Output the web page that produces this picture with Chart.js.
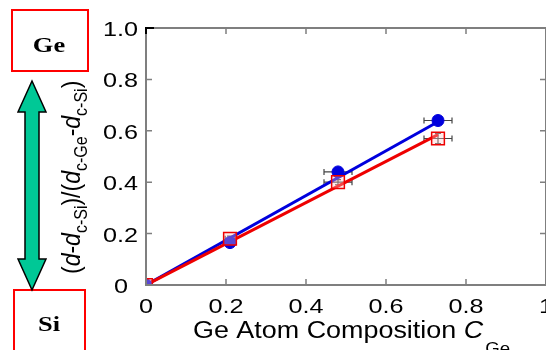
<!DOCTYPE html>
<html>
<head>
<meta charset="utf-8">
<script src="https://cdn.jsdelivr.net/npm/chart.js@4.4.1/dist/chart.umd.min.js"></script>
<style>
  html, body { margin: 0; padding: 0; background: #fff; overflow: hidden; }
  #wrap { position: relative; width: 580px; height: 350px; }
</style>
</head>
<body>
<div id="wrap"><canvas id="chart"></canvas></div>
<script>
// Ge composition and normalized lattice spacing
const composition = [0, 0.21, 0.48, 0.73];
const blueValues = [0, 0.165, 0.44, 0.64];
const redValues = [0, 0.18, 0.40, 0.57];
const compErr = [0, 0.012, 0.035, 0.035];
const blueErr = [0, 0, 0, 0];
const redErr = [0, 0.01, 0.01, 0.02];
// linear fits through the origin
const fitX = [0, 0.73];
const blueFit = [0, 0.635];
const redFit = [0, 0.585];
const xTicks = [0, 0.2, 0.4, 0.6, 0.8, 1];
const yTicks = [0, 0.2, 0.4, 0.6, 0.8, 1];
const xTickLabels = ['0', '0.2', '0.4', '0.6', '0.8', '1'];
const yTickLabels = ['0', '0.2', '0.4', '0.6', '0.8', '1.0'];

const pts = (xs, ys) => xs.map((x, i) => ({ x: x, y: ys[i] }));

const AXIS = '#7f7f7f';
const FONT = '"Liberation Sans", Arial, sans-serif';
const SX = 1.2;   // wide lettering

// text drawn horizontally widened; align is applied after widening
function wideText(ctx, str, x, y, font, align, sx) {
    sx = sx || SX;
    ctx.save();
    ctx.font = font;
    const w = ctx.measureText(str).width * sx;
    let left = x;
    if (align === 'center') left = x - w / 2;
    else if (align === 'right') left = x - w;
    ctx.translate(left, y);
    ctx.scale(sx, 1);
    ctx.textAlign = 'left';
    ctx.fillText(str, 0, 0);
    ctx.restore();
    return w;
}

// axes box with inward ticks, error bars and side annotations
const decorations = {
    id: 'decorations',
    beforeDatasetsDraw(chart) {
        const { ctx, scales: { x, y } } = chart;
        ctx.save();
        ctx.strokeStyle = '#444';
        ctx.lineWidth = 1.2;
        const bar = (xs, ys, xe, ye) => {
            xs.forEach((v, i) => {
                const px = x.getPixelForValue(v), py = y.getPixelForValue(ys[i]);
                if (xe[i] > 0) {
                    const l = x.getPixelForValue(v - xe[i]), r = x.getPixelForValue(v + xe[i]);
                    ctx.beginPath();
                    ctx.moveTo(l, py); ctx.lineTo(r, py);
                    ctx.moveTo(l, py - 3); ctx.lineTo(l, py + 3);
                    ctx.moveTo(r, py - 3); ctx.lineTo(r, py + 3);
                    ctx.stroke();
                }
                if (ye[i] > 0) {
                    const t = y.getPixelForValue(ys[i] + ye[i]), b = y.getPixelForValue(ys[i] - ye[i]);
                    ctx.beginPath();
                    ctx.moveTo(px, t); ctx.lineTo(px, b);
                    ctx.moveTo(px - 3, t); ctx.lineTo(px + 3, t);
                    ctx.moveTo(px - 3, b); ctx.lineTo(px + 3, b);
                    ctx.stroke();
                }
            });
        };
        bar(composition, redValues, compErr, redErr);
        bar(composition, blueValues, compErr, blueErr);
        ctx.restore();
    },
    afterDraw(chart) {
        const { ctx, chartArea: a, scales: { x, y } } = chart;
        ctx.save();

        // frame
        ctx.strokeStyle = AXIS;
        ctx.lineWidth = 2;
        ctx.strokeRect(a.left, a.top, a.right - a.left, a.bottom - a.top);
        ctx.lineWidth = 1.5;
        ctx.beginPath();
        xTicks.forEach(v => {
            const px = x.getPixelForValue(v);
            ctx.moveTo(px, a.bottom); ctx.lineTo(px, a.bottom - 6);
            ctx.moveTo(px, a.top); ctx.lineTo(px, a.top + 6);
        });
        yTicks.forEach(v => {
            const py = y.getPixelForValue(v);
            ctx.moveTo(a.left, py); ctx.lineTo(a.left + 6, py);
            ctx.moveTo(a.right, py); ctx.lineTo(a.right - 6, py);
        });
        ctx.stroke();
        ctx.strokeStyle = '#000';
        ctx.lineWidth = 2;
        ctx.beginPath();
        ctx.moveTo(a.left, a.top + 6); ctx.lineTo(a.left, a.top); ctx.lineTo(a.left + 8, a.top);
        ctx.stroke();

        // tick labels
        ctx.fillStyle = '#000';
        ctx.textBaseline = 'alphabetic';
        const tickFont = '21px ' + FONT;
        xTicks.forEach((v, i) => {
            wideText(ctx, xTickLabels[i], x.getPixelForValue(v), a.bottom + 28, tickFont, 'center');
        });
        yTicks.forEach((v, i) => {
            const right = v === 0 ? a.left - 18 : a.left - 8;
            wideText(ctx, yTickLabels[i], right, y.getPixelForValue(v) + 8, tickFont, 'right');
        });

        // x axis title
        let cx = 193;
        cx += wideText(ctx, 'Ge Atom Composition ', cx, 338, '23px ' + FONT, 'left', 1.17);
        cx += wideText(ctx, 'C', cx, 338, 'italic 23px ' + FONT, 'left', 1.17) + 2;
        wideText(ctx, 'Ge', cx, 354, '16px ' + FONT, 'left', 1.17);

        // y axis title, rotated, with subscripts
        ctx.save();
        ctx.translate(80, 274);
        ctx.scale(1.12, 1);
        ctx.rotate(-Math.PI / 2);
        const parts = [
            ['(', '23px', ''], ['d', '23px', 'italic '], ['-', '23px', ''], ['d', '23px', 'italic '],
            ['c-Si', '16px', '', 6], [')/(', '23px', ''], ['d', '23px', 'italic '],
            ['c-Ge', '16px', '', 6], ['-', '23px', ''], ['d', '23px', 'italic '],
            ['c-Si', '16px', '', 6], [')', '23px', '']
        ];
        let tx = 0;
        ctx.textAlign = 'left';
        parts.forEach(p => {
            ctx.font = p[2] + p[1] + ' ' + FONT;
            ctx.fillText(p[0], tx, p[3] || 0);
            tx += ctx.measureText(p[0]).width;
        });
        ctx.restore();

        // Ge / Si boxes
        ctx.strokeStyle = '#ff0000';
        ctx.lineWidth = 2;
        ctx.strokeRect(12, 10, 76, 61);
        ctx.strokeRect(14, 290, 71, 70);
        ctx.fillStyle = '#000';
        ctx.textBaseline = 'middle';
        const boxFont = 'bold 22px "Liberation Serif", "Times New Roman", serif';
        wideText(ctx, 'Ge', 49, 46, boxFont, 'center');
        wideText(ctx, 'Si', 49, 325, boxFont, 'center');

        // double-headed arrow
        const ax = 32, top = 81, bot = 290, hw = 14, sw = 7, hl = 31;
        ctx.beginPath();
        ctx.moveTo(ax, top);
        ctx.lineTo(ax + hw, top + hl);
        ctx.lineTo(ax + sw, top + hl);
        ctx.lineTo(ax + sw, bot - hl);
        ctx.lineTo(ax + hw, bot - hl);
        ctx.lineTo(ax, bot);
        ctx.lineTo(ax - hw, bot - hl);
        ctx.lineTo(ax - sw, bot - hl);
        ctx.lineTo(ax - sw, top + hl);
        ctx.lineTo(ax - hw, top + hl);
        ctx.closePath();
        ctx.fillStyle = '#00c896';
        ctx.fill();
        ctx.strokeStyle = '#000';
        ctx.lineWidth = 1.5;
        ctx.stroke();

        ctx.restore();
    }
};

new Chart(document.getElementById('chart'), {
    type: 'scatter',
    data: {
        datasets: [
            {
                type: 'line',
                data: pts(fitX, blueFit),
                borderColor: '#0000dd',
                borderWidth: 3,
                pointRadius: 0,
                order: 3
            },
            {
                type: 'line',
                data: pts(fitX, redFit),
                borderColor: '#ee0000',
                borderWidth: 3,
                pointRadius: 0,
                order: 2
            },
            {
                data: pts(composition, blueValues),
                pointStyle: 'circle',
                pointRadius: 6,
                backgroundColor: '#0000dd',
                borderColor: '#0000dd',
                order: 1
            },
            {
                data: pts(composition, redValues),
                pointStyle: 'rect',
                pointRadius: 9,
                backgroundColor: 'rgba(255,200,200,0.35)',
                borderColor: '#ee0000',
                borderWidth: 1.5,
                order: 0
            }
        ]
    },
    options: {
        responsive: true,
        maintainAspectRatio: false,
        animation: false,
        layout: { padding: { top: 28, right: 34, left: 0, bottom: 0 } },
        plugins: {
            legend: { display: false },
            tooltip: { enabled: false }
        },
        scales: {
            x: {
                type: 'linear',
                min: 0,
                max: 1,
                afterBuildTicks: s => { s.ticks = xTicks.map(v => ({ value: v })); },
                afterFit: s => { s.height = 65; },
                grid: { display: false },
                border: { display: false },
                ticks: { display: false }
            },
            y: {
                min: 0,
                max: 1,
                afterBuildTicks: s => { s.ticks = yTicks.map(v => ({ value: v })); },
                afterFit: s => { s.width = 146; },
                grid: { display: false },
                border: { display: false },
                ticks: { display: false }
            }
        }
    },
    plugins: [decorations]
});
</script>
</body>
</html>
